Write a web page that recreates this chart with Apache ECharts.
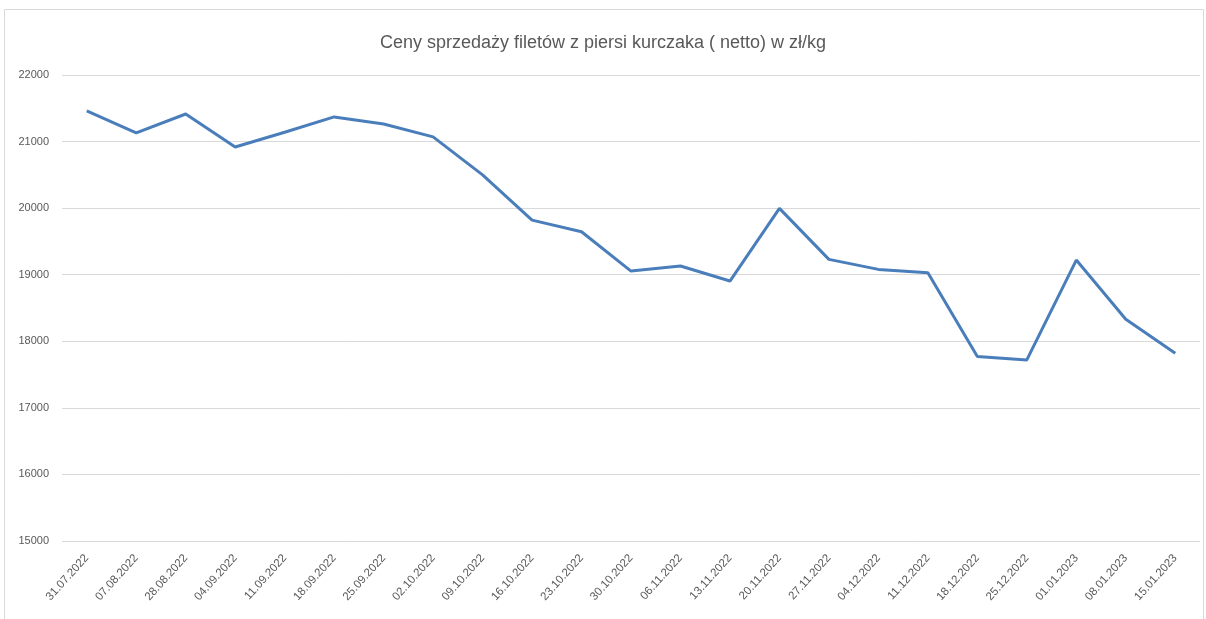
<!DOCTYPE html>
<html>
<head>
<meta charset="utf-8">
<script src="https://cdn.jsdelivr.net/npm/echarts@6/dist/echarts.min.js"></script>
<style>html,body{margin:0;padding:0;background:#fff}#c{width:1206px;height:619px}</style>
</head>
<body>
<div id="c"></div>
<script>
const titleText = 'Ceny sprzedaży filetów z piersi kurczaka ( netto) w zł/kg';
const categories = ['31.07.2022','07.08.2022','28.08.2022','04.09.2022','11.09.2022','18.09.2022','25.09.2022','02.10.2022','09.10.2022','16.10.2022','23.10.2022','30.10.2022','06.11.2022','13.11.2022','20.11.2022','27.11.2022','04.12.2022','11.12.2022','18.12.2022','25.12.2022','01.01.2023','08.01.2023','15.01.2023'];
const prices = [21460,21130,21414,20918,21140,21370,21265,21070,20500,19820,19645,19055,19130,18905,19997,19230,19080,19030,17770,17720,19220,18330,17820];
const yMin = 15000, yMax = 22000, yStep = 1000;

const chart = echarts.init(document.getElementById('c'));
const font = '"Liberation Sans Narrow", "Liberation Sans", sans-serif';
chart.setOption({
  animation: false,
  backgroundColor: '#fff',
  title: {
    text: titleText, left: 'center', top: 29,
    textStyle: { fontFamily: font, fontSize: 18, fontWeight: 'normal', color: '#595959' }
  },
  graphic: [{
    type: 'rect', shape: { x: 4.5, y: 9.5, width: 1199, height: 620 },
    style: { fill: 'none', stroke: '#d9d9d9', lineWidth: 1 }, silent: true
  }],
  grid: { left: 62, right: 6, top: 75, bottom: 78 },
  xAxis: {
    type: 'category', data: categories, boundaryGap: true,
    axisLine: { show: false }, axisTick: { show: false },
    axisLabel: { rotate: 48, interval: 0, fontFamily: font, fontSize: 11.5, color: '#595959', margin: 15 }
  },
  yAxis: {
    type: 'value', min: yMin, max: yMax, interval: yStep,
    axisLine: { show: false }, axisTick: { show: false },
    axisLabel: { fontFamily: font, fontSize: 11, color: '#595959', margin: 13, formatter: v => String(v) },
    splitLine: { lineStyle: { color: '#d9d9d9', width: 1 } }
  },
  series: [{
    type: 'line', data: prices, symbol: 'none',
    lineStyle: { color: '#4a7ebb', width: 3 }
  }]
});
</script>
</body>
</html>
